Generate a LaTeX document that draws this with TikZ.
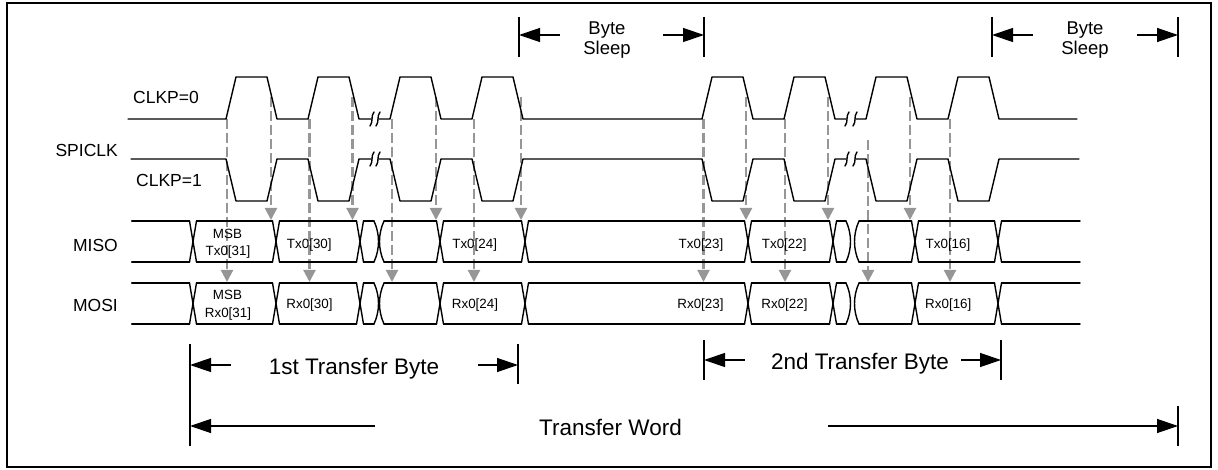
\documentclass[tikz,border=0pt]{standalone}
\usepackage{fontspec}
\setmainfont{Liberation Sans}
\usetikzlibrary{arrows.meta}
\definecolor{guidegray}{RGB}{150,150,150}
\newcommand\clktick[2]{\draw[sig] ({#1-2},{#2+7}) .. controls ({#1+1.5},{#2+3}) and ({#1-1.5},{#2-3}) .. ({#1+2},{#2-7});}
\newcommand\busclose[3]{\draw[sig] ({#1-1},#2) .. controls ({#1+5},{#2+13}) and ({#1+5},{#3-13}) .. ({#1-1},#3);}
\newcommand\busopen[3]{\draw[sig] ({#1+1},#2) .. controls ({#1-5},{#2+13}) and ({#1-5},{#3-13}) .. ({#1+1},#3);}
\begin{document}
\begin{tikzpicture}[x=1pt,y=-1pt,
  sig/.style={line width=1.4pt, line join=round, line cap=round},
  guide/.style={draw=guidegray, line width=2.2pt, dash pattern=on 10pt off 4pt, -{Triangle[length=12pt,width=12pt]}},
  dimbar/.style={line width=1.3pt},
  dimarr/.style={line width=1.3pt, -{Triangle[length=21pt,width=14pt]}},
  lbl/.style={font=\fontsize{17.5}{20}\selectfont, inner sep=0pt, text height=12.5pt, text depth=0pt},
  dat/.style={font=\fontsize{13.4}{16}\selectfont, inner sep=0pt, text height=9.6pt, text depth=0pt},
  bsl/.style={font=\fontsize{18.5}{20}\selectfont, inner sep=0pt, text height=13.2pt, text depth=0pt},
  big/.style={font=\fontsize{22.5}{26}\selectfont, inner sep=0pt, text height=16.1pt, text depth=0pt}]
\useasboundingbox (0,0) rectangle (1218,470);
\draw[line width=1.7pt] (7,3) rectangle (1211,467);

% guide lines
\foreach \x/\ys in {227/119, 309.5/119, 392/119, 474/119, 703.5/119, 785/119, 868/140, 950/119}
  \draw[guide] (\x,\ys) -- (\x,282);
\foreach \x in {271,352.5,436,521,746,828,910}
  \draw[guide] (\x,97) -- (\x,220);

% CLKP=0
\draw[sig] (128,119) -- (226,119) -- ++(10,-42) -- ++(31,0) -- ++(10,42) -- (308,119) -- ++(10,-42) -- ++(31,0) -- ++(10,42) -- (371,119);
\draw[sig] (379,119) -- (390,119) -- ++(10,-42) -- ++(31,0) -- ++(10,42) -- (472,119) -- ++(10,-42) -- ++(31,0) -- ++(10,42) -- (702,119) -- ++(10,-42) -- ++(31,0) -- ++(10,42) -- (784,119) -- ++(10,-42) -- ++(31,0) -- ++(10,42) -- (846,119);
\draw[sig] (856,119) -- (866,119) -- ++(10,-42) -- ++(31,0) -- ++(10,42) -- (948,119) -- ++(10,-42) -- ++(31,0) -- ++(10,42) -- (1077,119);
\clktick{372}{119}\clktick{378}{119}\clktick{847}{119}\clktick{855}{119}

% CLKP=1
\draw[sig] (131,159) -- (226,159) -- ++(10,42) -- ++(31,0) -- ++(10,-42) -- (308,159) -- ++(10,42) -- ++(31,0) -- ++(10,-42) -- (371,159);
\draw[sig] (379,159) -- (390,159) -- ++(10,42) -- ++(31,0) -- ++(10,-42) -- (472,159) -- ++(10,42) -- ++(31,0) -- ++(10,-42) -- (702,159) -- ++(10,42) -- ++(31,0) -- ++(10,-42) -- (784,159) -- ++(10,42) -- ++(31,0) -- ++(10,-42) -- (846,159);
\draw[sig] (856,159) -- (866,159) -- ++(10,42) -- ++(31,0) -- ++(10,-42) -- (948,159) -- ++(10,42) -- ++(31,0) -- ++(10,-42) -- (1079,159);
\clktick{372}{159}\clktick{378}{159}\clktick{847}{159}\clktick{855}{159}

% buses
\foreach \T/\B in {221/262, 283/324}{
  \foreach \c in {193,276,360,440,525,748,833,915,998}{
    \draw[sig] ({\c-3.5},\T) -- ({\c+3.5},\B);
    \draw[sig] ({\c-3.5},\B) -- ({\c+3.5},\T);
  }
  \foreach \a/\b in {131.7/189.5, 196.5/272.5, 279.5/356.5, 363.5/374, 384/436.5, 443.5/521.5, 528.5/744.5, 751.5/829.5, 836.5/846, 859/911.5, 918.5/994.5, 1001.5/1080}{
    \draw[sig] (\a,\T) -- (\b,\T);
    \draw[sig] (\a,\B) -- (\b,\B);
  }
  \busclose{375}{\T}{\B}\busopen{383}{\T}{\B}
  \busclose{847}{\T}{\B}\busopen{858}{\T}{\B}
}

% signal labels
\node[lbl, anchor=west] (clk0) at (133,97.5) {CLKP=0};
\node[lbl, anchor=west] (clk1) at (136,180.5) {CLKP=1};
\node[lbl, anchor=east] (spiclk) at (118,150.5) {SPICLK};
\node[lbl, anchor=east] (miso) at (118,245) {MISO};
\node[lbl, anchor=east] (mosi) at (118,305.5) {MOSI};

% data labels
\node[dat] (msb1) at (227.5,233.5) {MSB};
\node[dat] (tx31) at (228,251) {Tx0[31]};
\node[dat] (tx30) at (309.3,243.7) {Tx0[30]};
\node[dat] (tx24) at (474.7,243.7) {Tx0[24]};
\node[dat] (tx23) at (701,243.7) {Tx0[23]};
\node[dat] (tx22) at (784.2,243.7) {Tx0[22]};
\node[dat] (tx16) at (948,243.7) {Tx0[16]};
\node[dat] (msb2) at (227.5,295) {MSB};
\node[dat] (rx31) at (228,313) {Rx0[31]};
\node[dat] (rx30) at (309.5,303.5) {Rx0[30]};
\node[dat] (rx24) at (475,303.5) {Rx0[24]};
\node[dat] (rx23) at (700.5,303.5) {Rx0[23]};
\node[dat] (rx22) at (784.5,303.5) {Rx0[22]};
\node[dat] (rx16) at (948.3,303.5) {Rx0[16]};

% byte sleep 1
\coordinate (bs1a) at (519,35); \coordinate (bs1b) at (704,35);
\coordinate (bs1c) at (560,35); \coordinate (bs1d) at (663,35);
\draw[dimbar] (519,17) -- (519,57);
\draw[dimbar] (704,17) -- (704,57);
\draw[dimarr] (bs1c) -- (bs1a);
\draw[dimarr] (bs1d) -- (bs1b);
\node[bsl] (bs1t) at (607,27.5) {Byte};
\node[bsl] (bs1s) at (607,48) {Sleep};

% byte sleep 2
\coordinate (bs2a) at (992,35); \coordinate (bs2b) at (1178,35);
\coordinate (bs2c) at (1033,35); \coordinate (bs2d) at (1137,35);
\draw[dimbar] (992,17) -- (992,57);
\draw[dimbar] (1178,17) -- (1178,57);
\draw[dimarr] (bs2c) -- (bs2a);
\draw[dimarr] (bs2d) -- (bs2b);
\node[bsl] (bs2t) at (1085,27.5) {Byte};
\node[bsl] (bs2s) at (1085,48) {Sleep};

% 1st transfer byte
\coordinate (tb1a) at (190,365); \coordinate (tb1b) at (518,365);
\coordinate (tb1c) at (231,365); \coordinate (tb1d) at (478,365);
\draw[dimbar] (190,344) -- (190,446);
\draw[dimbar] (518,344) -- (518,384);
\draw[dimarr] (tb1c) -- (tb1a);
\draw[dimarr] (tb1d) -- (tb1b);
\node[big] (tb1t) at (354,366.2) {1st Transfer Byte};

% 2nd transfer byte
\coordinate (tb2a) at (704,360); \coordinate (tb2b) at (1001,360);
\coordinate (tb2c) at (745,360); \coordinate (tb2d) at (961,360);
\draw[dimbar] (704,340) -- (704,380);
\draw[dimbar] (1001,340) -- (1001,380);
\draw[dimarr] (tb2c) -- (tb2a);
\draw[dimarr] (tb2d) -- (tb2b);
\node[big] (tb2t) at (860,361.3) {2nd Transfer Byte};

% transfer word
\coordinate (twa) at (190,426); \coordinate (twb) at (1178,426);
\coordinate (twc) at (375,426); \coordinate (twd) at (828,426);
\draw[dimbar] (1178,406) -- (1178,446);
\draw[dimarr] (twc) -- (twa);
\draw[dimarr] (twd) -- (twb);
\node[big] (twt) at (610.5,427.2) {Transfer Word};
\end{tikzpicture}
\end{document}
